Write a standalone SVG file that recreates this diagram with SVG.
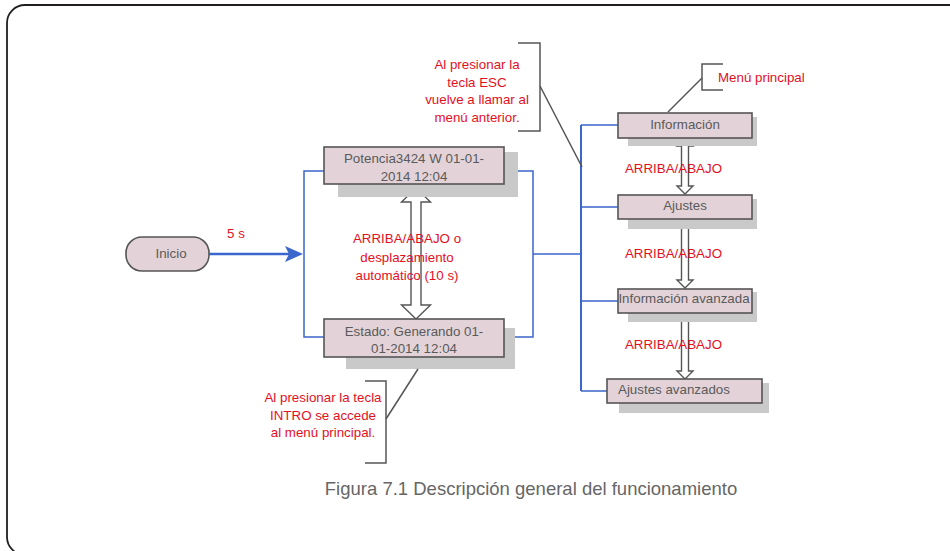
<svg xmlns="http://www.w3.org/2000/svg" width="950" height="551" viewBox="0 0 950 551">
<style>
.frame{fill:none;stroke:#231f20;stroke-width:1.8}
.shadow{fill:#c9c9c9}
.box{fill:#e3d3d8;stroke:#555555;stroke-width:1.6}
.ntext{font-family:"Liberation Sans",Arial,sans-serif;font-size:13.33px;fill:#5a5a5a}
.rtext{font-family:"Liberation Sans",Arial,sans-serif;font-size:13.33px;fill:#e3101e}
.cap{font-family:"Liberation Sans",Arial,sans-serif;font-size:18.5px;fill:#666666}
.blue{fill:none;stroke:#3b66cc;stroke-width:1.5}
.note{fill:none;stroke:#555555;stroke-width:1.5}
.dbl{fill:#ffffff;stroke:#555555;stroke-width:1.4;stroke-linejoin:miter}
</style>
<rect class="frame" x="7" y="5" width="980" height="550" rx="18" ry="18"/>

<g id="connectors">
  <path class="blue" d="M324,171 H304 V337 H324"/>
  <path class="blue" d="M504,171 H533 V337 H515"/>
  <path class="blue" d="M533,254 H581"/>
  <path class="blue" d="M581,125 V391" style="stroke-width:2"/>
  <path class="blue" d="M581,125 H618 M581,207 H618 M581,301 H618 M581,391 H607"/>
  <path class="blue" d="M209,254 H290" style="stroke-width:2.6"/>
  <polygon points="285,246 303,254 285,262 289,254" fill="#3b66cc"/>
  <polygon class="dbl" points="416,188 430.5,202 421,202 421,305 430.5,305 416,319 401.5,305 411,305 411,202 401.5,202"/>
  <polygon class="dbl" points="685,138 693,146 688.5,146 688.5,186 693,186 685,194 677,186 681.5,186 681.5,146 677,146"/>
  <polygon class="dbl" points="685,220 693,228 688.5,228 688.5,280 693,280 685,288 677,280 681.5,280 681.5,228 677,228"/>
  <polygon class="dbl" points="685,313 693,321 688.5,321 688.5,371 693,371 685,379 677,371 681.5,371 681.5,321 677,321"/>
</g>

<g id="inicio">
  <rect class="box" x="126" y="237" width="83" height="34" rx="16" ry="16"/>
  <text class="ntext" x="171" y="258" text-anchor="middle">Inicio</text>
</g>
<text class="rtext" x="236" y="238" text-anchor="middle">5 s</text>

<g id="potencia">
  <rect class="shadow" x="338" y="152" width="180" height="45"/>
  <rect class="box" x="324" y="147" width="180" height="37"/>
  <text class="ntext" x="414" y="163" text-anchor="middle">Potencia3424 W 01-01-</text>
  <text class="ntext" x="414" y="181" text-anchor="middle">2014 12:04</text>
</g>

<g id="estado">
  <rect class="shadow" x="346" y="328" width="169" height="41"/>
  <rect class="box" x="324" y="319" width="180" height="38"/>
  <text class="ntext" x="414" y="336" text-anchor="middle">Estado: Generando 01-</text>
  <text class="ntext" x="414" y="353" text-anchor="middle">01-2014 12:04</text>
</g>

<g id="main-arrow-label">
  <text class="rtext" x="407" y="243" text-anchor="middle">ARRIBA/ABAJO o</text>
  <text class="rtext" x="407" y="262" text-anchor="middle">desplazamiento</text>
  <text class="rtext" x="407" y="280" text-anchor="middle">automático (10 s)</text>
</g>

<g id="informacion">
  <rect class="shadow" x="628" y="117" width="129" height="29"/>
  <rect class="box" x="618" y="113" width="134" height="25"/>
  <text class="ntext" x="685" y="129" text-anchor="middle">Información</text>
</g>

<g id="ajustes">
  <rect class="shadow" x="628" y="199" width="129" height="30"/>
  <rect class="box" x="618" y="195" width="134" height="24"/>
  <text class="ntext" x="685" y="210" text-anchor="middle">Ajustes</text>
</g>

<g id="info-avanzada">
  <rect class="shadow" x="628" y="292" width="129" height="30"/>
  <rect class="box" x="618" y="289" width="134" height="24"/>
  <text class="ntext" x="684" y="303" text-anchor="middle">Información avanzada</text>
</g>

<g id="ajustes-avanzados">
  <rect class="shadow" x="619" y="383" width="150" height="30"/>
  <rect class="box" x="607" y="379" width="155" height="24"/>
  <text class="ntext" x="618" y="394">Ajustes avanzados</text>
</g>

<g id="menu-labels">
  <text class="rtext" x="673.5" y="173" text-anchor="middle">ARRIBA/ABAJO</text>
  <text class="rtext" x="673.5" y="258" text-anchor="middle">ARRIBA/ABAJO</text>
  <text class="rtext" x="673.5" y="349" text-anchor="middle">ARRIBA/ABAJO</text>
</g>

<g id="note-esc">
  <path class="note" d="M518,43 H540 V131 H518"/>
  <path class="note" d="M540,86 L582,167"/>
  <text class="rtext" x="477" y="69" text-anchor="middle">Al presionar la</text>
  <text class="rtext" x="477" y="87" text-anchor="middle">tecla ESC</text>
  <text class="rtext" x="477" y="104" text-anchor="middle">vuelve a llamar al</text>
  <text class="rtext" x="477" y="122" text-anchor="middle">menú anterior.</text>
</g>

<g id="note-menu">
  <path class="note" d="M723,64 H702 V90 H723"/>
  <path class="note" d="M702,78 L668,112"/>
  <text class="rtext" x="718" y="82">Menú principal</text>
</g>

<g id="note-intro">
  <path class="note" d="M365,381 H386 V463 H365"/>
  <path class="note" d="M386,419 L418,369"/>
  <text class="rtext" x="323" y="402" text-anchor="middle">Al presionar la tecla</text>
  <text class="rtext" x="323" y="420" text-anchor="middle">INTRO se accede</text>
  <text class="rtext" x="323" y="437" text-anchor="middle">al menú principal.</text>
</g>

<text class="cap" x="531" y="495" text-anchor="middle">Figura 7.1 Descripción general del funcionamiento</text>
</svg>
